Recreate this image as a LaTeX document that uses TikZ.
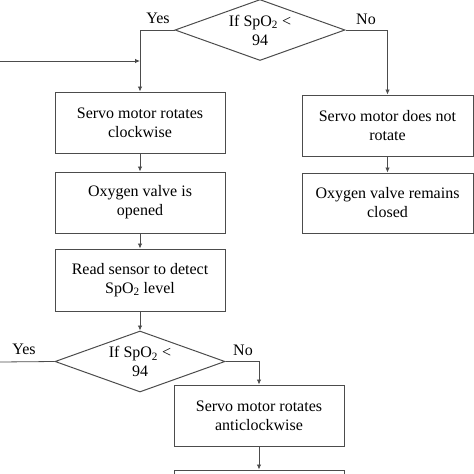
\documentclass[tikz,border=0pt]{standalone}
\usepackage{fontspec}
\setmainfont{Liberation Serif}
\usetikzlibrary{shapes.geometric,arrows.meta}
\begin{document}
\begin{tikzpicture}[x=1pt,y=-1pt,
  every node/.style={font=\fontsize{16}{19}\selectfont, text=black},
  box/.style={draw=black!70, line width=1pt, rectangle, minimum width=170pt, minimum height=61pt, inner sep=0pt, align=center},
  dec/.style={draw=black!70, line width=1pt, diamond, aspect=2.8, minimum width=170pt, minimum height=61pt, inner sep=0pt, align=center},
  conn/.style={draw=black!70, line width=0.8pt},
  arr/.style={conn, -{Latex[length=5pt,width=4.5pt]}},
  lbl/.style={inner sep=0pt}
]
\useasboundingbox (0,0) rectangle (474,474);
\clip (0,0) rectangle (474,474);
\node[dec] (d1) at (260,30) {If SpO\textsubscript{2} <\\94};
\node[box] (b1) at (140,122.5) {Servo motor rotates\\clockwise};
\node[box, minimum width=171pt] (r1) at (387.5,125.5) {Servo motor does not\\rotate};
\node[box, minimum width=171pt, minimum height=60pt] (r2) at (387.5,203) {Oxygen valve remains\\closed};
\node[box] (b2) at (140,202.5) {Oxygen valve is\\opened};
\node[box, minimum height=62pt] (b3) at (140,280) {Read sensor to detect\\SpO\textsubscript{2} level};
\node[dec] (d2) at (140,361.5) {If SpO\textsubscript{2} <\\94};
\node[box] (b4) at (259,415.5) {Servo motor rotates\\anticlockwise};
\node[box] (b5) at (259,500.5) {};
\coordinate (topin) at (260,-10);
\coordinate (lin) at (0,61);
\coordinate (yesout) at (0,362);
\node[lbl] (yes1) at (158,18) {Yes};
\node[lbl] (no1) at (366,19) {No};
\node[lbl] (yes2) at (24,349) {Yes};
\node[lbl] (no2) at (243,350) {No};
\draw[conn] (topin) -- (d1.north);
\draw[arr] (d1.west) -| (b1.north);
\draw[arr] (d1.east) -| (r1.north);
\draw[arr] (lin) -- (lin -| b1.north);
\draw[arr] (b1) -- (b2);
\draw[arr] (b2) -- (b3);
\draw[arr] (b3) -- (d2.north);
\draw[arr] (r1) -- (r2);
\draw[conn] (d2.west) -- (yesout);
\draw[arr] (d2.east) -| (b4.north);
\draw[arr] (b4) -- (b5);
\end{tikzpicture}
\end{document}
